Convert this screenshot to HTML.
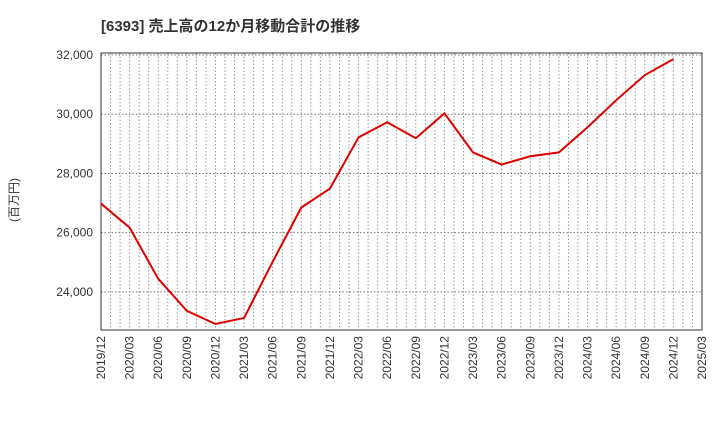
<!DOCTYPE html>
<html><head><meta charset="utf-8"><style>
body{margin:0;background:#fff;font-family:"Liberation Sans","Noto Sans CJK JP",sans-serif;}
</style></head><body>
<svg id="chart" width="720" height="440" xmlns="http://www.w3.org/2000/svg" font-family="Liberation Sans, Noto Sans CJK JP, sans-serif">
<text x="101" y="31" font-size="15" font-weight="bold" fill="#333">[6393]  売上高の12か月移動合計の推移</text>
<text transform="translate(18,200) rotate(-90)" font-size="12" fill="#333" text-anchor="middle">(百万円)</text>
<g id="grid"></g><g id="axes"></g><g id="series"></g>
</svg>
<script>
const categories=["2019/12","2020/03","2020/06","2020/09","2020/12","2021/03","2021/06","2021/09","2021/12","2022/03","2022/06","2022/09","2022/12","2023/03","2023/06","2023/09","2023/12","2024/03","2024/06","2024/09","2024/12","2025/03"];
const salesValues=[26983,26170,24440,23360,22915,23120,25020,26850,27490,29220,29730,29190,30030,28710,28300,28580,28710,29560,30470,31320,31860];
const yTicks=[24000,26000,28000,30000,32000];
const X0=101,X1=702,Y0=53,Y1=330,VMIN=22712,VMAX=32068;
const ns="http://www.w3.org/2000/svg";
const step=(X1-X0)/(categories.length-1);
const xs=i=>X0+i*step;
const ys=v=>Y1-(v-VMIN)/(VMAX-VMIN)*(Y1-Y0);
function mk(t,a,p){const e=document.createElementNS(ns,t);for(const k in a)e.setAttribute(k,a[k]);p.appendChild(e);return e;}
const grid=document.getElementById('grid'),axes=document.getElementById('axes'),ser=document.getElementById('series');
for(let m=1;m<(categories.length-1)*3;m++){const x=X0+m*step/3;
const l=mk('line',{x1:x,x2:x,y1:Y0,y2:Y1,stroke:'#999','stroke-dasharray':'1.5,2','stroke-width':1},grid);

}
mk('line',{x1:X0,x2:X1,y1:Y0,y2:Y0,stroke:'#999','stroke-dasharray':'1.5,2'},grid);
yTicks.forEach(v=>{const y=ys(v);
const l=mk('line',{x1:X0,x2:X1,y1:y,y2:y,stroke:'#777','stroke-dasharray':'1.5,2'},grid);


const t=mk('text',{x:X0-8,y:y+4,'font-size':12,'text-anchor':'end',fill:'#333'},axes);t.textContent=v.toLocaleString('en-US');

});
const fr=mk('rect',{x:X0,y:Y0,width:X1-X0,height:Y1-Y0,fill:'none',stroke:'#333','stroke-width':1},axes);


categories.forEach((c,i)=>{const x=xs(i);
const t=mk('text',{transform:`translate(${x+4},${Y1+6}) rotate(-90)`,'font-size':12,'text-anchor':'end',fill:'#333'},axes);t.textContent=c;

});
const pts=salesValues.map((v,i)=>xs(i)+','+ys(v)).join(' ');
const pl=mk('polyline',{points:pts,fill:'none',stroke:'#e00000','stroke-width':2},ser);


</script>
</body></html>
